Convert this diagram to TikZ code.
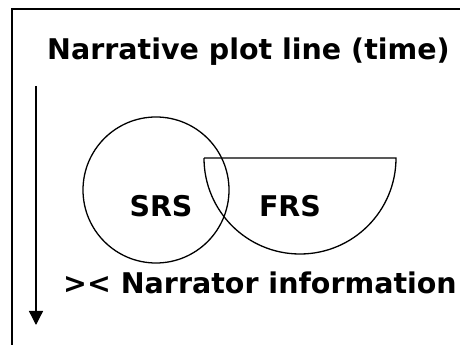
\documentclass[tikz,border=0pt]{standalone}
\usepackage{fontspec}
\setmainfont{DejaVu Sans}
\usetikzlibrary{arrows.meta}
\begin{document}
\begin{tikzpicture}[x=1pt,y=1pt,
  lbl/.style={font=\bfseries\fontsize{28.5}{30}\selectfont, inner sep=0pt},
  frameline/.style={line width=1.6pt},
  thin/.style={line width=1.3pt}]
\useasboundingbox (0,0) rectangle (460,345);
\fill[white] (0,0) rectangle (460,345);
% frame (top and left, continuing past the picture)
\coordinate (fl) at (12,0);
\coordinate (ftl) at (12,336);
\coordinate (fr) at (460,336);
\draw[frameline] (fl) -- (ftl) -- (fr);
% title
\node[lbl, anchor=base west] (title) at (47,285) {Narrative plot line (time)};
% time arrow
\coordinate (ta) at (36,259);
\coordinate (tb) at (36,20);
\draw[thin, -{Triangle[width=14pt,length=14pt]}] (ta) -- (tb);
% SRS circle
\node[draw, thin, circle, minimum size=146pt, inner sep=0pt] (srsc) at (156,155) {};
\node[lbl, anchor=base] (srs) at (161,128) {SRS};
% FRS half circle
\coordinate (fa) at (204,187);
\coordinate (fb) at (396,187);
\draw[thin] (fa) -- (fb) arc[start angle=0, end angle=-180, radius=96pt];
\node[lbl, anchor=base] (frs) at (290,128) {FRS};
% narrator
\node[lbl, anchor=base west] (narr) at (63,51) {>< Narrator information};
\end{tikzpicture}
\end{document}
